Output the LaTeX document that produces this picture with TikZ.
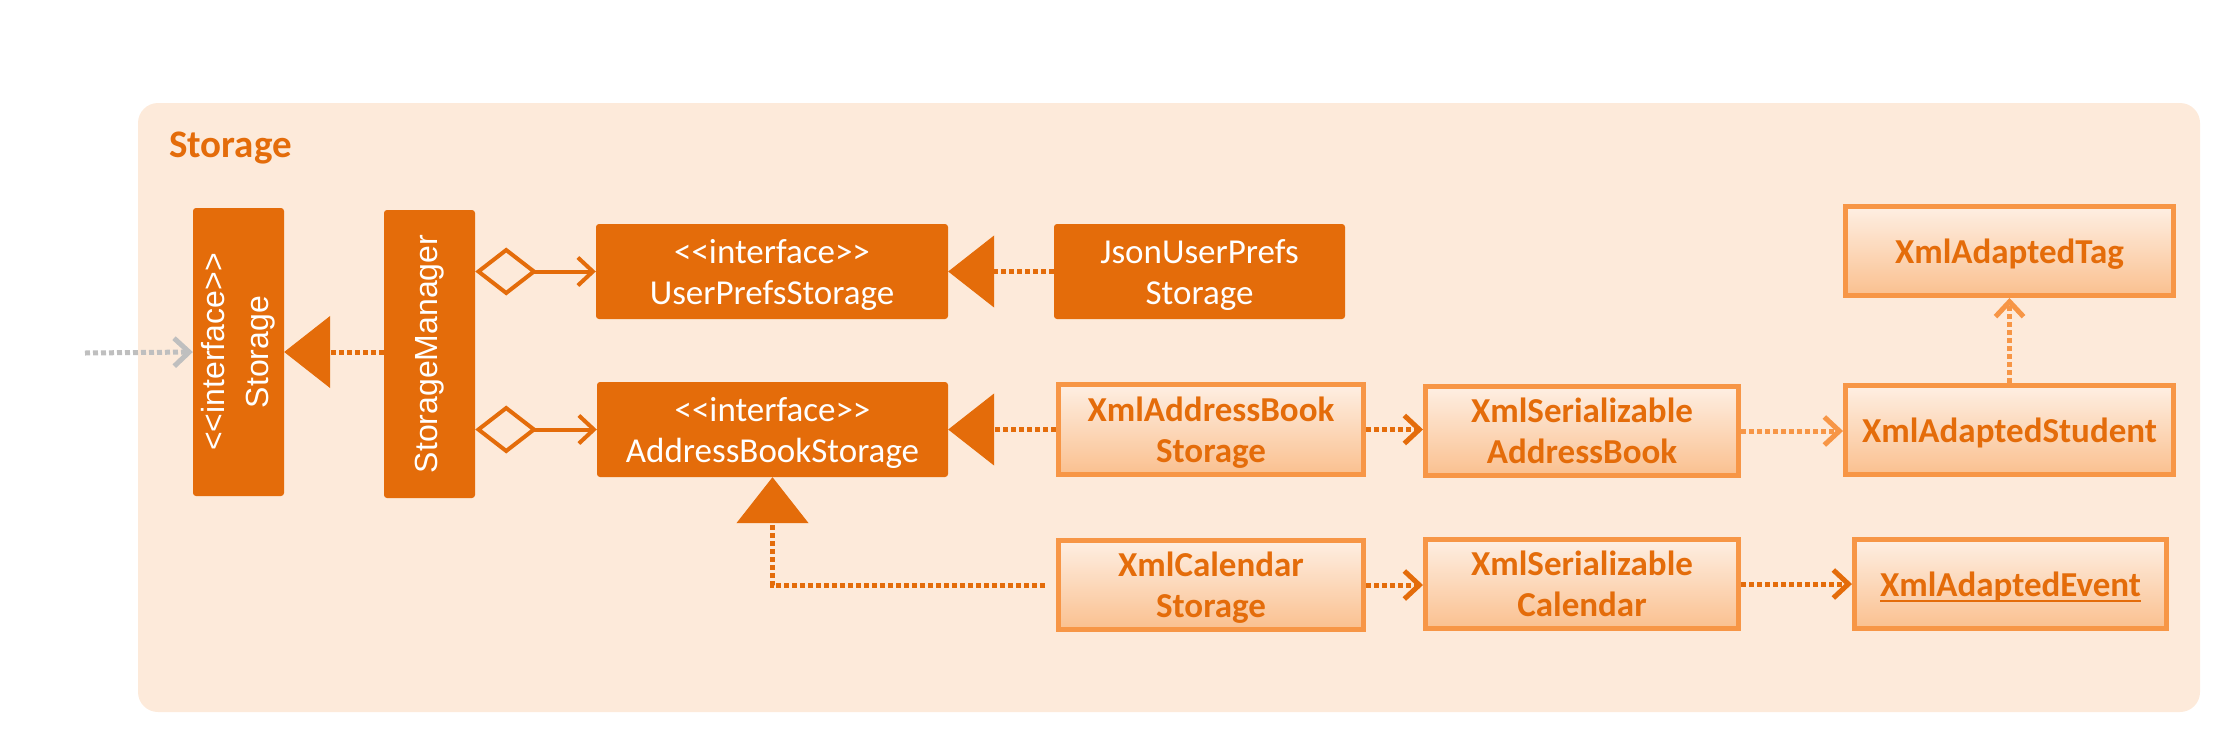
\documentclass[tikz,border=0pt]{standalone}
\usepackage{fontspec}
\setmainfont{Carlito}
\newfontfamily\sidefont{Liberation Sans}
\usetikzlibrary{arrows.meta}

\newcommand\classunder[1]{\setbox0\hbox{#1}\rlap{\rule[-6pt]{\wd0}{2.5pt}}\box0}

\definecolor{storagebg}{RGB}{253,234,218}
\definecolor{darkor}{RGB}{228,108,10}
\definecolor{lightor}{RGB}{247,150,70}
\definecolor{boxtop}{RGB}{254,239,227}
\definecolor{boxbot}{RGB}{250,192,143}
\definecolor{callgray}{RGB}{191,191,191}

\tikzset{
  ifacebox/.style={fill=darkor, rounded corners=3pt, text=white, align=center,
    inner sep=0pt, text depth=0pt, font=\fontsize{35}{41}\selectfont},
  sidetext/.style={rotate=90, text=white, align=center,
    font=\sidefont\fontsize{32}{44}\selectfont},
  xmlbox/.style={draw=lightor, line width=5pt, top color=boxtop, bottom color=boxbot,
    text=darkor, align=center, inner sep=0pt, text depth=0pt,
    font=\bfseries\fontsize{35}{41}\selectfont},
  dep/.style={line width=5pt, dash pattern=on 5pt off 3pt, draw=darkor},
  realize/.style={dep, -{Triangle[length=46pt, width=72pt, line width=1pt]}},
  uses/.style={dep, -{Straight Barb[length=15pt, width=28pt]}},
  usesl/.style={uses, draw=lightor},
  callarrow/.style={uses, draw=callgray},
  aggr/.style={draw=darkor, line width=4pt,
    {Diamond[length=62pt, width=48pt, fill=storagebg]}-{Straight Barb[length=15pt, width=28pt]}}
}

\begin{document}
\begin{tikzpicture}[x=1pt, y=-1pt]
\useasboundingbox (0,0) rectangle (2215,750);

% package frame
\node[fill=storagebg, rounded corners=20pt, minimum width=2062pt, minimum height=609pt] (panel) at (1169,407.5) {};
\node[anchor=base west, inner sep=0pt, text=darkor, font=\bfseries\fontsize{39}{44}\selectfont] (paneltitle) at (169,157) {Storage};

% left column
\node[ifacebox, minimum width=91pt, minimum height=288pt] (storage) at (238.5,352) {};
\node[sidetext] (storagelbl) at (storage.center) {<{}<interface>{}>\\Storage};
\node[ifacebox, minimum width=91pt, minimum height=288pt] (mgr) at (429.5,354) {};
\node[sidetext] (mgrlbl) at (mgr.center) {StorageManager};

% interfaces
\node[ifacebox, minimum width=352pt, minimum height=95pt] (upstore) at (772,271.5) {<{}<interface>{}>\\UserPrefsStorage};
\node[ifacebox, minimum width=351pt, minimum height=95pt] (abstore) at (772.5,429.5) {<{}<interface>{}>\\AddressBookStorage};
\node[ifacebox, minimum width=291pt, minimum height=95pt] (jsonstore) at (1199.5,271.5) {JsonUserPrefs\\Storage};

% xml classes
\node[xmlbox, minimum width=305pt, minimum height=90pt] (xmlabstore) at (1211,429.5) {XmlAddressBook\\Storage};
\node[xmlbox, minimum width=313pt, minimum height=89pt] (xmlserab) at (1582,431) {XmlSerializable\\AddressBook};
\node[xmlbox, minimum width=328pt, minimum height=89pt] (student) at (2009.5,430) {XmlAdaptedStudent};
\node[xmlbox, minimum width=328pt, minimum height=89pt] (tag) at (2009.5,251) {XmlAdaptedTag};
\node[xmlbox, minimum width=305pt, minimum height=89pt] (xmlcalstore) at (1211,585) {XmlCalendar\\Storage};
\node[xmlbox, minimum width=313pt, minimum height=89pt] (xmlsercal) at (1582,584) {XmlSerializable\\Calendar};
\node[xmlbox, minimum width=312pt, minimum height=89pt] (event) at (2010.5,584) {\classunder{XmlAdaptedEvent}};

% connectors
\coordinate (caller) at (85,353);
\draw[callarrow] (caller) -- (storage.west);
\draw[realize] (mgr.west |- storage.east) -- (storage.east);
\draw[aggr] (mgr.east |- upstore.west) -- (upstore.west);
\draw[aggr] (mgr.east |- abstore.west) -- (abstore.west);
\draw[realize] (jsonstore.west) -- (upstore.east);
\draw[realize] (xmlabstore.west) -- (abstore.east);
\draw[realize, shorten <=11pt] (xmlcalstore.west) -| (abstore.south);
\draw[uses] (xmlabstore.east) -- (xmlabstore.east -| xmlserab.west);
\draw[usesl] (xmlserab.east) -- (xmlserab.east -| student.west);
\draw[usesl] (student.north) -- (tag.south);
\draw[uses] (xmlcalstore.east) -- (xmlcalstore.east -| xmlsercal.west);
\draw[uses] (xmlsercal.east) -- (event.west);

\end{tikzpicture}
\end{document}
